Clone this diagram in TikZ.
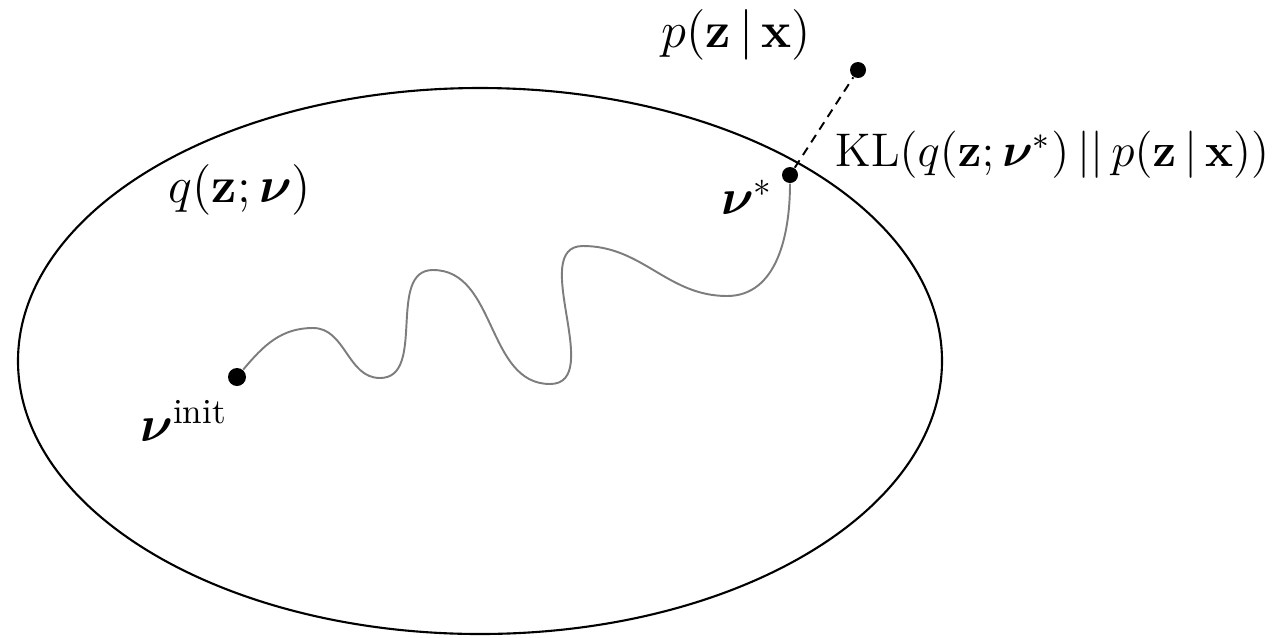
\documentclass[tikz,border=0pt]{standalone}
\usepackage{amsmath,amssymb}
\usepackage{xcolor}
\usepackage{tikz}
\usetikzlibrary{positioning,shapes.geometric}
\definecolor{wgray}{RGB}{125,125,125}
\tikzset{
  dot/.style  ={circle, fill=black, inner sep=0pt, minimum size=1.6mm},
  big/.style  ={inner sep=0pt, font=\fontsize{14.4}{17}\selectfont},
  mid/.style  ={inner sep=0pt, font=\fontsize{12}{14}\selectfont,
                scale=1.12, transform shape},
  walk/.style ={draw=wgray, line width=0.55pt},
  kl/.style   ={draw=black, line width=0.55pt, dash pattern=on 2.5pt off 1.8pt}
}
\newcommand{\bnu}{\boldsymbol{\nu}}

\begin{document}
\begin{tikzpicture}
\useasboundingbox (0,0) rectangle (12.76,6.37);

% family of q
\node[draw, ellipse, line width=0.6pt, minimum width=9.24cm, minimum height=5.46cm,
      inner sep=0pt] (fam) at (4.80,2.76) {};
\node[big] (qlbl) at (2.40,4.47) {$q(\mathbf{z};\bnu)$};

% optimisation path
\node[dot, minimum size=1.8mm] (vinit) at (2.37,2.60) {};
\node[dot] (vstar) at (7.90,4.62) {};
\node[big] (vilbl) at (1.84,2.16) {$\bnu^{\text{init}}$};
\node[big] (vslbl) at (7.47,4.40) {$\bnu^{*}$};
\draw[walk] (vinit) to[out=50,in=180] (3.13,3.09)
  to[out=0,in=180] (3.80,2.59) to[out=0,in=180] (4.33,3.67)
  to[out=0,in=180] (5.50,2.53) to[out=0,in=180] (5.83,3.91)
  to[out=0,in=180] (7.27,3.41) to[out=0,in=-90] (vstar.south);

% posterior
\node[dot] (post) at (8.58,5.67) {};
\node[big] (plbl) at (7.36,6.02) {$p(\mathbf{z}\,|\,\mathbf{x})$};
\draw[kl] (vstar) -- (post);
\node[mid] (kllbl) at (10.52,4.82)
  {$\mathrm{KL}(q(\mathbf{z};\bnu^{*})\,||\,p(\mathbf{z}\,|\,\mathbf{x}))$};
\end{tikzpicture}
\end{document}
